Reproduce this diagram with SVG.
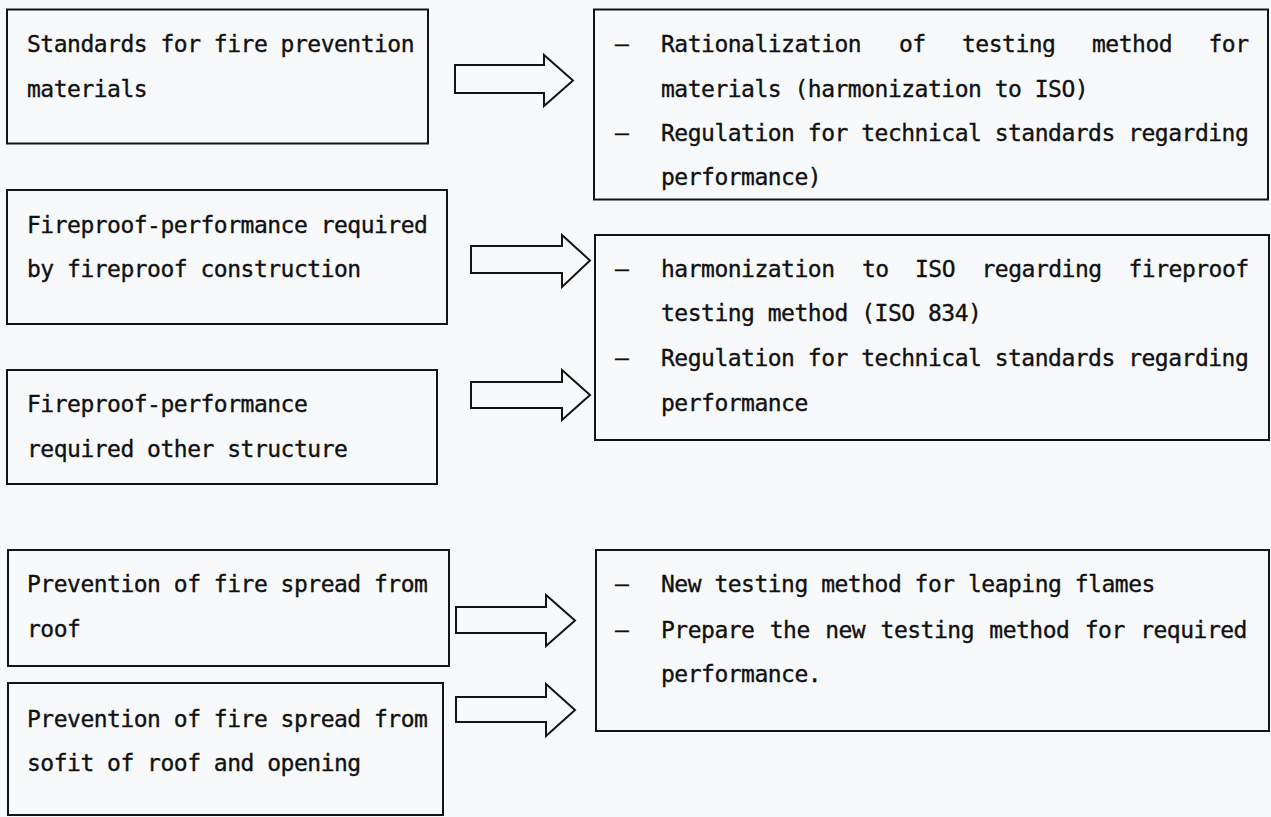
<svg xmlns="http://www.w3.org/2000/svg" width="1271" height="817" viewBox="0 0 1271 817">
  <style>
    .box { fill: none; stroke: #141414; stroke-width: 2; }
    .arrow { fill: none; stroke: #141414; stroke-width: 2; stroke-linejoin: miter; }
    .t { font-family: "DejaVu Sans Mono", "Liberation Mono", monospace; font-size: 23px; letter-spacing: -0.5px; fill: #111; stroke: #111; stroke-width: 0.35px; }
  </style>
  <rect x="0" y="0" width="1271" height="817" fill="#f8f9fb"/>

  <!-- left column: requirement items -->
  <g id="node-materials">
    <rect class="box" x="7" y="9.5" width="421" height="134"/>
    <text class="t" x="27" y="52">Standards for fire prevention</text>
    <text class="t" x="27" y="97">materials</text>
  </g>
  <g id="node-fireproof-construction">
    <rect class="box" x="7" y="190" width="440" height="134"/>
    <text class="t" x="27" y="233">Fireproof-performance required</text>
    <text class="t" x="27" y="277">by fireproof construction</text>
  </g>
  <g id="node-fireproof-other">
    <rect class="box" x="7" y="370" width="430" height="114"/>
    <text class="t" x="27" y="412">Fireproof-performance</text>
    <text class="t" x="27" y="457">required other structure</text>
  </g>
  <g id="node-roof">
    <rect class="box" x="8" y="550" width="441" height="116"/>
    <text class="t" x="27" y="592">Prevention of fire spread from</text>
    <text class="t" x="27" y="637">roof</text>
  </g>
  <g id="node-soffit">
    <rect class="box" x="8" y="683" width="435" height="132"/>
    <text class="t" x="27" y="727">Prevention of fire spread from</text>
    <text class="t" x="27" y="771">sofit of roof and opening</text>
  </g>

  <!-- right column: measures -->
  <g id="node-measures-materials">
    <rect class="box" x="594" y="9.5" width="674" height="190"/>
    <text class="t" x="615" y="52">–</text>
    <text class="t" y="52"><tspan x="661">Rationalization</tspan><tspan x="899">of</tspan><tspan x="962">testing</tspan><tspan x="1092">method</tspan><tspan x="1208.5">for</tspan></text>
    <text class="t" x="661" y="97">materials (harmonization to ISO)</text>
    <text class="t" x="615" y="141">–</text>
    <text class="t" x="661" y="141">Regulation for technical standards regarding</text>
    <text class="t" x="661" y="185">performance)</text>
  </g>
  <g id="node-measures-fireproof">
    <rect class="box" x="595" y="235" width="674" height="205"/>
    <text class="t" x="615" y="277">–</text>
    <text class="t" y="277"><tspan x="661">harmonization</tspan><tspan x="862">to</tspan><tspan x="915">ISO</tspan><tspan x="981.5">regarding</tspan><tspan x="1128.5">fireproof</tspan></text>
    <text class="t" x="661" y="321">testing method (ISO 834)</text>
    <text class="t" x="615" y="366">–</text>
    <text class="t" x="661" y="366">Regulation for technical standards regarding</text>
    <text class="t" x="661" y="411">performance</text>
  </g>
  <g id="node-measures-roof">
    <rect class="box" x="596" y="550" width="673" height="181"/>
    <text class="t" x="615" y="592">–</text>
    <text class="t" x="661" y="592">New testing method for leaping flames</text>
    <text class="t" x="615" y="638">–</text>
    <text class="t" x="661" y="638" word-spacing="2">Prepare the new testing method for required</text>
    <text class="t" x="661" y="682">performance.</text>
  </g>

  <!-- block arrows linking requirements to measures -->
  <g id="connectors">
    <polygon class="arrow" points="455,65 544,65 544,55 573,80.5 544,106 544,93 455,93"/>
    <polygon class="arrow" points="471,246 562,246 562,235 590,260.5 562,287 562,273 471,273"/>
    <polygon class="arrow" points="471,382 562,382 562,370 590,395 562,420 562,408 471,408"/>
    <polygon class="arrow" points="456,607 546,607 546,595 575,620.5 546,646 546,633 456,633"/>
    <polygon class="arrow" points="456,697 546,697 546,684 575,710 546,736 546,722 456,722"/>
  </g>
</svg>
